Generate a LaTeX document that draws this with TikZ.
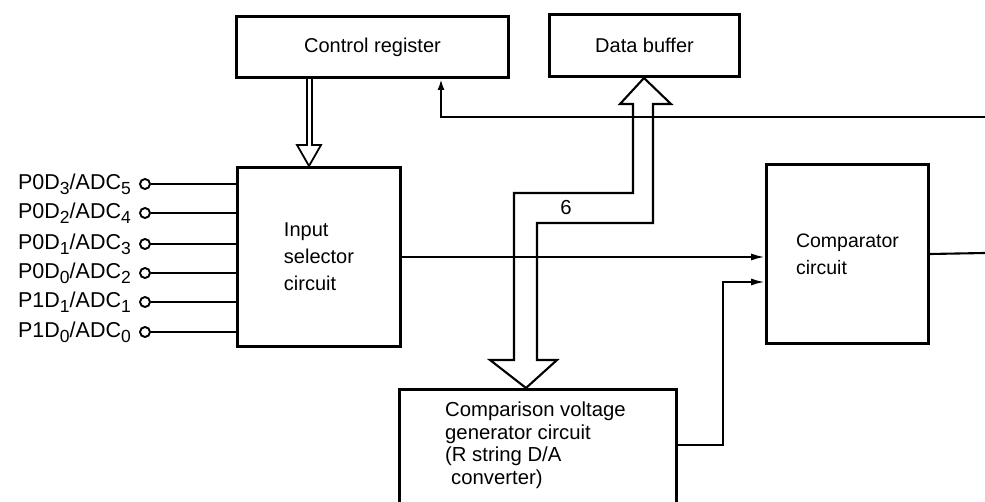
\documentclass[tikz,border=0pt]{standalone}
\usepackage{fontspec}
\setmainfont{Liberation Sans}
\usetikzlibrary{arrows.meta,calc}
\newcommand\sbs[1]{\raisebox{-0.4ex}{\fontsize{17.5}{17.5}\selectfont #1}}
\begin{document}
\begin{tikzpicture}[x=1pt,y=-1pt,
  box/.style={draw, line width=3pt, rectangle, inner sep=0pt, anchor=north west,
    font=\fontsize{20}{27}\selectfont, align=left},
  conn/.style={line width=2.1pt},
  arr/.style={conn, -{Latex[length=14pt,width=7pt]}},
  sarr/.style={conn, -{Latex[length=11pt,width=7pt]}},
  pin/.style={circle, draw, line width=1.9pt, minimum size=10pt, inner sep=0pt},
  pinlabel/.style={anchor=base east, font=\fontsize{21.5}{21.5}\selectfont, inner sep=0pt},
  bus/.style={line width=2.1pt, line join=miter},
  lbl/.style={font=\fontsize{20.3}{22.5}\selectfont, inner sep=0pt}
]
\useasboundingbox (0,0) rectangle (985,502);
\clip (0,0) rectangle (985,502);

% boxes
\node[box, minimum width=272pt, minimum height=61pt] (cr) at (235,15) {Control register};
\node[box, minimum width=190pt, minimum height=62pt] (db) at (548,13) {Data buffer};
\node[box, minimum width=163pt, minimum height=179pt] (is) at (236,166) {Input\\selector\\circuit};
\node[box, minimum width=162pt, minimum height=179pt, font=\fontsize{19.5}{27}\selectfont] (cmp) at (765,163) {Comparator\\circuit};
\node[box, minimum width=277pt, minimum height=140pt] (cvg) at (398,388) {};
\node[lbl, anchor=north west, align=left] (cvgtext) at (445,402)
  {Comparison voltage\\generator circuit\\(R string D/A\\\hspace*{6pt}converter)};

% input pins
\node[pin] (p5) at (145,184) {};
\node[pin] (p4) at (145,213) {};
\node[pin] (p3) at (145,244) {};
\node[pin] (p2) at (145,273) {};
\node[pin] (p1) at (145,302) {};
\node[pin] (p0) at (145,332) {};
\node[pinlabel] (l5) at (131,190) {P0D\sbs{3}/ADC\sbs{5}};
\node[pinlabel] (l4) at (131,219) {P0D\sbs{2}/ADC\sbs{4}};
\node[pinlabel] (l3) at (131,250) {P0D\sbs{1}/ADC\sbs{3}};
\node[pinlabel] (l2) at (131,279) {P0D\sbs{0}/ADC\sbs{2}};
\node[pinlabel] (l1) at (131,308) {P1D\sbs{1}/ADC\sbs{1}};
\node[pinlabel] (l0) at (131,338) {P1D\sbs{0}/ADC\sbs{0}};
\foreach \p in {p5,p4,p3,p2,p1,p0}
  \draw[conn] (\p.east) -- (\p.east -| is.west);

% control register -> input selector (hollow arrow)
\draw[line width=1.8pt, line join=miter]
  ($(cr.south west)+(72,0)$) -- (307,145) -- (297,145) -- ($(is.north west)+(73,0)$)
  -- (321,145) -- (312,145) -- ($(cr.south west)+(77,0)$);

% data bus (hollow double arrow)
\draw[bus] ($(db.south west)+(96,0)$) -- (671,104) -- (653,104) -- (653,223) -- (537,223)
  -- (537,360) -- (557,360) -- ($(cvg.north west)+(128,0)$) -- (490,360) -- (514,360)
  -- (514,193) -- (633,193) -- (633,104) -- (620,104) -- cycle;
\node[lbl] (six) at (566,208) {6};

% feedback to control register
\coordinate (fbin) at (985,117);
\draw[sarr] (fbin) -| ($(cr.south west)+(206,0)$);

% input selector -> comparator
\draw[arr] (is.east) -- (is.east -| cmp.west);

% comparison voltage generator -> comparator
\draw[arr] ($(cvg.north east)+(0,57)$) -- ++(45,0) |- ($(cmp.north west)+(0,119)$);

% comparator output
\coordinate (out) at (985,253);
\draw[conn] (cmp.east) -- (out);
\end{tikzpicture}
\end{document}
